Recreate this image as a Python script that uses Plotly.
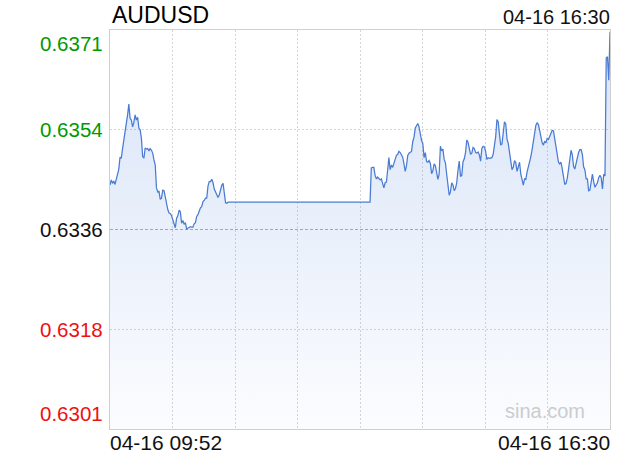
import plotly.graph_objects as go

# ---- data -------------------------------------------------------------
symbol = "AUDUSD"
start_label = "04-16 09:52"
end_label = "04-16 16:30"
session_minutes = 398  # 09:52 -> 16:30

# minute offsets from 09:52 (gap = no quotes, drawn flat)
minutes = list(range(0, 95)) + list(range(207, 399))

prices = [
    0.63438, 0.63447, 0.63441, 0.63445, 0.63439, 0.63450, 0.63461, 0.63466, 0.63487, 0.63485,
    0.63502, 0.63517, 0.63528, 0.63540, 0.63561, 0.63580, 0.63555, 0.63552, 0.63540, 0.63548,
    0.63561, 0.63552, 0.63557, 0.63538, 0.63535, 0.63520, 0.63488, 0.63485, 0.63503, 0.63501,
    0.63502, 0.63498, 0.63502, 0.63499, 0.63494, 0.63482, 0.63473, 0.63433, 0.63426, 0.63427,
    0.63413, 0.63415, 0.63429, 0.63428, 0.63417, 0.63402, 0.63395, 0.63389, 0.63388, 0.63384,
    0.63377, 0.63372, 0.63363, 0.63380, 0.63384, 0.63394, 0.63391, 0.63371, 0.63376, 0.63369,
    0.63372, 0.63361, 0.63362, 0.63363, 0.63365, 0.63364, 0.63364, 0.63370, 0.63372, 0.63383,
    0.63386, 0.63392, 0.63398, 0.63400, 0.63409, 0.63411, 0.63415, 0.63415, 0.63436, 0.63444,
    0.63444, 0.63448, 0.63442, 0.63431, 0.63426, 0.63418, 0.63416, 0.63421, 0.63433, 0.63438,
    0.63441, 0.63428, 0.63407, 0.63406, 0.63408,
    0.63408,
    0.63468, 0.63469, 0.63469, 0.63455, 0.63449, 0.63452, 0.63449, 0.63447, 0.63449, 0.63440,
    0.63433, 0.63442, 0.63443, 0.63464, 0.63486, 0.63465, 0.63473, 0.63469, 0.63476, 0.63485,
    0.63490, 0.63492, 0.63497, 0.63495, 0.63492, 0.63487, 0.63475, 0.63462, 0.63472, 0.63490,
    0.63494, 0.63495, 0.63497, 0.63514, 0.63522, 0.63538, 0.63542, 0.63546, 0.63540, 0.63524,
    0.63516, 0.63511, 0.63486, 0.63495, 0.63479, 0.63478, 0.63481, 0.63476, 0.63458, 0.63463,
    0.63475, 0.63472, 0.63461, 0.63448, 0.63457, 0.63506, 0.63498, 0.63501, 0.63483, 0.63477,
    0.63457, 0.63442, 0.63420, 0.63426, 0.63442, 0.63438, 0.63428, 0.63432, 0.63442, 0.63464,
    0.63480, 0.63453, 0.63455, 0.63479, 0.63484, 0.63495, 0.63517, 0.63513, 0.63499, 0.63492,
    0.63494, 0.63504, 0.63502, 0.63495, 0.63494, 0.63496, 0.63491, 0.63480, 0.63502, 0.63506,
    0.63505, 0.63497, 0.63483, 0.63486, 0.63485, 0.63485, 0.63486, 0.63492, 0.63508, 0.63523,
    0.63553, 0.63549, 0.63527, 0.63508, 0.63510, 0.63535, 0.63549, 0.63545, 0.63519, 0.63511,
    0.63497, 0.63478, 0.63465, 0.63469, 0.63481, 0.63477, 0.63462, 0.63470, 0.63478, 0.63457,
    0.63447, 0.63438, 0.63449, 0.63448, 0.63461, 0.63469, 0.63481, 0.63488, 0.63500, 0.63515,
    0.63529, 0.63543, 0.63547, 0.63544, 0.63534, 0.63520, 0.63512, 0.63508, 0.63515, 0.63512,
    0.63520, 0.63518, 0.63524, 0.63528, 0.63534, 0.63533, 0.63521, 0.63505, 0.63490, 0.63478,
    0.63475, 0.63478, 0.63466, 0.63450, 0.63439, 0.63441, 0.63450, 0.63466, 0.63485, 0.63499,
    0.63491, 0.63471, 0.63466, 0.63478, 0.63485, 0.63495, 0.63500, 0.63500, 0.63492, 0.63470,
    0.63465, 0.63449, 0.63449, 0.63428, 0.63429, 0.63443, 0.63457, 0.63444, 0.63434, 0.63438,
    0.63442, 0.63451, 0.63455, 0.63451, 0.63431, 0.63457, 0.63454, 0.63661, 0.63663, 0.63622,
    0.63707,
]

prev_close = 0.6336
y_max = 0.6371
y_min = 0.6301
tick_values = [0.6371, 0.63535, 0.6336, 0.63185, 0.6301]
tick_labels = ["0.6371", "0.6354", "0.6336", "0.6318", "0.6301"]
tick_colors = ["#009a00", "#009a00", "#111111", "#ee1111", "#ee1111"]

# ---- figure -----------------------------------------------------------
FONT = "Liberation Sans, Arial, sans-serif"

fig = go.Figure()
fig.add_trace(go.Scatter(
    x=minutes, y=prices, mode="lines",
    line=dict(color="#4a7bd3", width=1.25),
    fill="tozeroy",
    fillgradient=dict(
        type="vertical",
        colorscale=[[0, "rgba(60,120,220,0.02)"], [1, "rgba(60,120,220,0.20)"]],
        start=y_min, stop=y_max,
    ),
    hoverinfo="skip",
))

fig.add_shape(type="line", xref="paper", x0=0, x1=1, yref="y",
              y0=prev_close, y1=prev_close,
              line=dict(color="#a8aec0", width=1, dash="3px,2px"), layer="below")

grid_x = [session_minutes * k / 8 for k in range(1, 8)]

fig.update_layout(
    width=620, height=460,
    margin=dict(l=110, r=10, t=30, b=31),
    paper_bgcolor="white", plot_bgcolor="white",
    showlegend=False,
    font=dict(family=FONT),
    xaxis=dict(range=[0, session_minutes], tickvals=grid_x, showticklabels=False,
               showgrid=True, gridcolor="#d6d6d6", griddash="2px,2px", gridwidth=1,
               zeroline=False, showline=True, linecolor="#cfcfcf", linewidth=1,
               mirror=True, ticks="", fixedrange=True),
    yaxis=dict(range=[y_min, y_max], tickvals=[tick_values[1], tick_values[3]],
               showticklabels=False, showgrid=True, gridcolor="#d6d6d6",
               griddash="2px,2px", gridwidth=1, zeroline=False, showline=True,
               linecolor="#cfcfcf", linewidth=1, mirror=True, ticks="",
               fixedrange=True),
)

anns = []
anchors = ["top", "middle", "middle", "middle", "bottom"]
for v, t, c, a in zip(tick_values, tick_labels, tick_colors, anchors):
    anns.append(dict(xref="paper", x=0, xanchor="right", xshift=-5,
                     yref="y", y=v, yanchor=a,
                     yshift=(2 if a == "bottom" else 0),
                     text=t, showarrow=False,
                     font=dict(size=20.5, color=c, family=FONT)))

anns.append(dict(xref="paper", x=0, xanchor="left", yref="paper", y=1,
                 yanchor="bottom", yshift=0, text=symbol, showarrow=False,
                 font=dict(size=23, color="#000000", family=FONT)))
anns.append(dict(xref="paper", x=1, xanchor="right", xshift=2, yref="paper", y=1,
                 yanchor="bottom", yshift=0, text=end_label, showarrow=False,
                 font=dict(size=20, color="#111111", family=FONT)))
anns.append(dict(xref="paper", x=0, xanchor="left", xshift=-2, yref="paper", y=0,
                 yanchor="top", text=start_label, showarrow=False,
                 font=dict(size=21, color="#111111", family=FONT)))
anns.append(dict(xref="paper", x=1, xanchor="right", xshift=2, yref="paper", y=0,
                 yanchor="top", text=end_label, showarrow=False,
                 font=dict(size=21, color="#111111", family=FONT)))
anns.append(dict(xref="paper", x=0.954, xanchor="right", yref="paper", y=0.045,
                 yanchor="middle", text="sina.com", showarrow=False,
                 font=dict(size=20, color="#cccccc", family=FONT)))

fig.update_layout(annotations=anns)
fig.write_html(
    "out.html",
    config={"displayModeBar": False, "staticPlot": True},
    post_script="document.body.style.margin='0';document.body.style.overflow='hidden';",
)
